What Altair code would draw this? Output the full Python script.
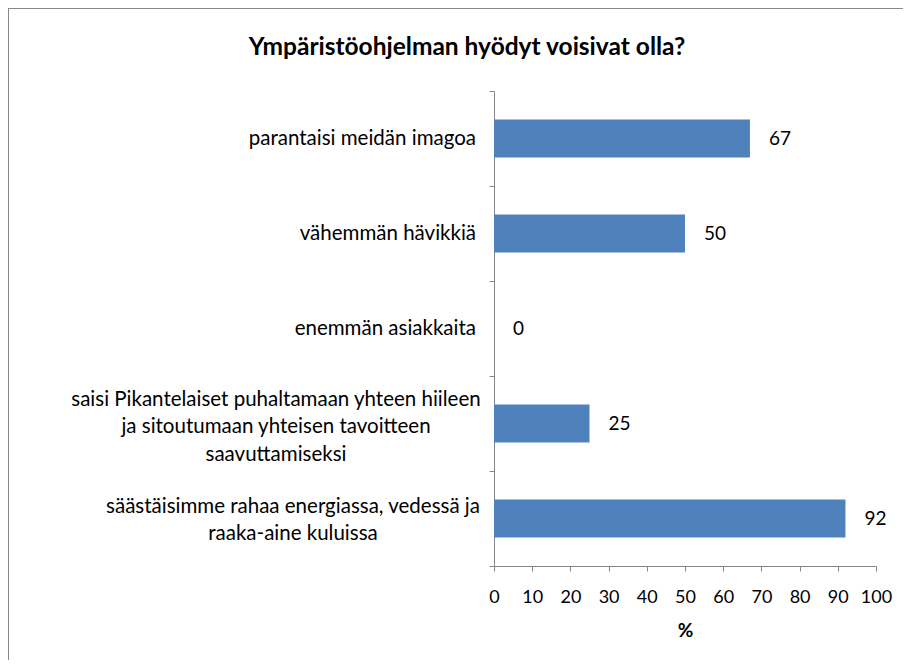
import altair as alt
import pandas as pd

categories = [
    "parantaisi meidän imagoa",
    "vähemmän hävikkiä",
    "enemmän asiakkaita",
    "saisi Pikantelaiset puhaltamaan yhteen hiileen|ja sitoutumaan yhteisen tavoitteen|saavuttamiseksi",
    "säästäisimme rahaa energiassa, vedessä ja|raaka-aine kuluissa",
]
values = [67, 50, 0, 25, 92]
x_ticks = [0, 10, 20, 30, 40, 50, 60, 70, 80, 90, 100]

df = pd.DataFrame({"cat": categories, "val": values})

FONT = "Lato"
GRAY = "#868686"

y_axis = alt.Axis(
    title=None,
    tickBand="extent",
    domainColor=GRAY,
    tickColor=GRAY,
    tickSize=5,
    labels=False,
)
x_axis = alt.Axis(
    title="%",
    values=x_ticks,
    tickCount=11,
    grid=False,
    domainColor=GRAY,
    tickColor=GRAY,
    tickSize=5,
    labelOverlap=False,
    labelFlush=False,
    labelFont=FONT,
    labelFontSize=18,
    labelColor="#000000",
    labelPadding=17,
    titleFont=FONT,
    titleFontSize=19,
    titleFontWeight="bold",
    titleColor="#000000",
    titlePadding=15,
)
y_scale = alt.Scale(paddingInner=0, paddingOuter=0)
x_scale = alt.Scale(domain=[0, 100], nice=False)


def y_enc():
    return alt.Y("cat:N", sort=categories, scale=y_scale, axis=y_axis)


def x_enc():
    return alt.X("val:Q", scale=x_scale, axis=x_axis)


bars = alt.Chart(df).mark_bar(color="#4F81BD", height={"band": 0.4}).encode(y=y_enc(), x=x_enc())

values_text = alt.Chart(df).mark_text(
    align="left", baseline="middle", dx=19, font=FONT, fontSize=19, color="#000000"
).encode(
    y=y_enc(),
    x=x_enc(),
    text=alt.Text("val:Q"),
)

cat_text = (
    alt.Chart(df)
    .transform_calculate(lines="split(datum.cat, '|')")
    .mark_text(
        baseline="middle",
        font=FONT,
        fontSize=20.5,
        color="#000000",
        lineHeight=27.5,
        align={"expr": "indexof(datum.cat, '|') >= 0 ? 'center' : 'right'"},
        dx={"expr": "indexof(datum.cat, 'saisi') == 0 ? -218 : (indexof(datum.cat, 'säästäisimme') == 0 ? -201 : -18)"},
        dy={"expr": "indexof(datum.cat, 'saisi') == 0 ? -24 : (indexof(datum.cat, 'säästäisimme') == 0 ? -12 : 0)"},
    )
    .encode(
        y=y_enc(),
        x=alt.value(0),
        text=alt.Text("lines:N"),
    )
)

border = alt.Chart(df).mark_rect(fill=None, stroke="#888888", strokeWidth=1).encode(
    x=alt.value(-485.5), y=alt.value(-82.5), x2=alt.value(1200), y2=alt.value(1200)
)

chart = (
    alt.layer(bars, values_text, cat_text, border)
    .properties(
        width=382,
        height=475,
        title=alt.TitleParams(
            "Ympäristöohjelman hyödyt voisivat olla?",
            font=FONT,
            fontSize=24.5,
            fontWeight="bold",
            color="#000000",
            anchor="middle",
            frame="group",
            dx=-218,
            offset=-52,
        ),
        padding={"left": 486, "top": 83, "right": 27, "bottom": 94},
        autosize=alt.AutoSizeParams(type="none"),
    )
    .configure_view(stroke=None)
)

chart.save("out.html", embed_options={"renderer": "svg", "actions": False})
